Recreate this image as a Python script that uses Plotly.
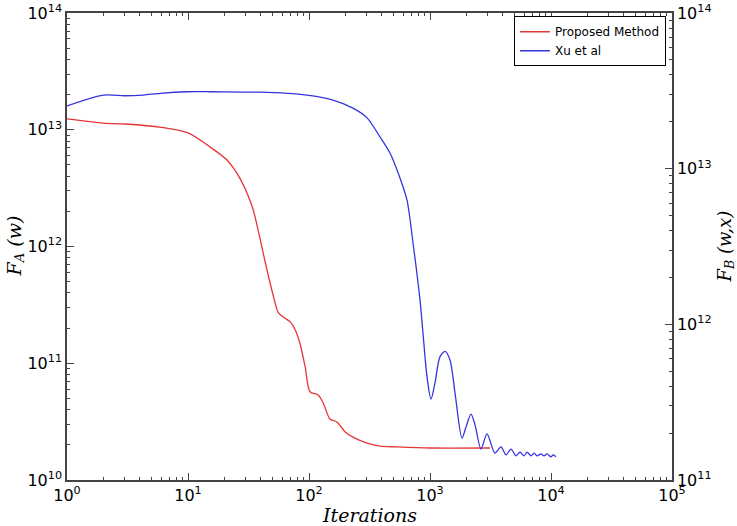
import plotly.graph_objects as go

# Proposed Method (left axis, F_A(w))
prop_iter = [1, 2, 3, 6, 10, 15, 21, 27, 34, 38, 43, 50, 56, 63, 70, 77, 84, 93, 102,
             119, 131, 149, 170, 199, 231, 302, 386, 534, 1000, 3130]
prop_val = [1.24e13, 1.14e13, 1.12e13, 1.05e13, 9.4e12, 7.2e12, 5.5e12, 3.8e12, 2.18e12,
            1.38e12, 7.7e11, 4.0e11, 2.7e11, 2.44e11, 2.26e11, 1.93e11, 1.49e11, 9.3e10,
            5.7e10, 5.35e10, 4.57e10, 3.33e10, 3.14e10, 2.58e10, 2.33e10, 2.07e10, 1.95e10,
            1.92e10, 1.88e10, 1.88e10]

# Xu et al (right axis, F_B(w,x))
xu_iter = [1, 2, 3, 4.25, 5.9, 9.8, 15.2, 26.9, 39.4, 96, 158, 231, 302, 386, 467, 565, 645,
           724, 827, 875, 945, 1019, 1099, 1210, 1331, 1464, 1611, 1838, 1984, 2183, 2355,
           2639, 2958, 3443, 3863, 4249, 4673, 5140, 5545, 5984, 6339, 6839, 7244, 7662,
           8266, 8750, 9266, 10000, 10400, 11000]
xu_val = [2.53e13, 2.97e13, 2.94e13, 2.97e13, 3.05e13, 3.12e13, 3.12e13, 3.10e13, 3.10e13,
          2.97e13, 2.76e13, 2.45e13, 2.12e13, 1.60e13, 1.26e13, 8.7e12, 6.3e12, 3.33e12,
          1.43e12, 8.8e11, 4.6e11, 3.31e11, 4.2e11, 6.2e11, 6.7e11, 5.9e11, 3.6e11, 1.86e11,
          2.19e11, 2.65e11, 2.26e11, 1.58e11, 1.98e11, 1.49e11, 1.63e11, 1.45e11, 1.58e11,
          1.43e11, 1.51e11, 1.43e11, 1.51e11, 1.43e11, 1.49e11, 1.43e11, 1.47e11, 1.43e11,
          1.47e11, 1.41e11, 1.45e11, 1.41e11]

x_tickvals = [1, 10, 100, 1000, 10000, 100000]
x_ticktext = ["10<sup>0</sup>", "10<sup>1</sup>", "10<sup>2</sup>", "10<sup>3</sup>",
              "10<sup>4</sup>", "10<sup>5</sup>"]
yl_tickvals = [1e10, 1e11, 1e12, 1e13, 1e14]
yl_ticktext = ["10<sup>10</sup>", "10<sup>11</sup>", "10<sup>12</sup>", "10<sup>13</sup>",
               "10<sup>14</sup>"]
yr_tickvals = [1e11, 1e12, 1e13, 1e14]
yr_ticktext = ["10<sup>11</sup>", "10<sup>12</sup>", "10<sup>13</sup>", "10<sup>14</sup>"]


def minor_vals(lo, hi):
    vals = []
    for e in range(lo, hi):
        for m in range(2, 10):
            vals.append(m * 10 ** e)
    return vals


fig = go.Figure()
fig.add_trace(go.Scatter(x=prop_iter, y=prop_val, mode="lines", name="Proposed Method",
                         line=dict(color="#e83535", width=1.3, shape="spline", smoothing=0.8),
                         yaxis="y"))
fig.add_trace(go.Scatter(x=xu_iter, y=xu_val, mode="lines", name="Xu et al",
                         line=dict(color="#3535e0", width=1.3, shape="spline", smoothing=0.8),
                         yaxis="y2"))

tickfont = dict(family="DejaVu Sans", size=16, color="black")
axcol = "#444444"
titlefont = dict(family="DejaVu Serif", size=19, color="black")

fig.update_layout(
    width=737, height=526,
    margin=dict(l=67, r=65, t=13, b=46, autoexpand=False),
    paper_bgcolor="white", plot_bgcolor="white",
    showlegend=True,
    legend=dict(x=0.99, y=0.993, xanchor="right", yanchor="top",
                bgcolor="white", bordercolor="black", borderwidth=1,
                font=dict(family="DejaVu Sans", size=12, color="black"),
                tracegroupgap=0),
    xaxis=dict(type="log", range=[0, 5], tickmode="array", tickvals=x_tickvals,
               ticktext=x_ticktext, ticks="inside", ticklen=7, tickwidth=1, tickcolor=axcol,
               showline=True, linecolor=axcol, linewidth=1.5, mirror="ticks",
               showgrid=False, zeroline=False, tickfont=tickfont, automargin=False,
               ticklabeloverflow="allow",
               minor=dict(tickmode="array", tickvals=minor_vals(0, 5), ticks="inside",
                          ticklen=3.5, tickcolor=axcol, showgrid=False)),
    yaxis=dict(type="log", range=[10, 14], tickmode="array", tickvals=yl_tickvals,
               ticktext=yl_ticktext, ticks="inside", ticklen=7, tickwidth=1, tickcolor=axcol,
               showline=True, linecolor=axcol, linewidth=1.5, mirror=False,
               showgrid=False, zeroline=False, tickfont=tickfont, automargin=False,
               ticklabeloverflow="allow",
               minor=dict(tickmode="array", tickvals=minor_vals(10, 14), ticks="inside",
                          ticklen=3.5, tickcolor=axcol, showgrid=False)),
    yaxis2=dict(type="log", range=[11, 14], overlaying="y", side="right",
                tickmode="array", tickvals=yr_tickvals, ticktext=yr_ticktext,
                ticks="inside", ticklen=7, tickwidth=1, tickcolor=axcol,
                showline=True, linecolor=axcol, linewidth=1.5,
                showgrid=False, zeroline=False, tickfont=tickfont, automargin=False,
                ticklabeloverflow="allow",
                minor=dict(tickmode="array", tickvals=minor_vals(11, 14), ticks="inside",
                           ticklen=3.5, tickcolor=axcol, showgrid=False)),
    annotations=[
        dict(text="<i>Iterations</i>", xref="paper", yref="paper", x=0.5, y=0,
             yshift=-35, xanchor="center", yanchor="middle", showarrow=False,
             font=titlefont),
        dict(text="<i>F</i><sub><i>A</i></sub><i> (w)</i>", xref="paper", yref="paper",
             x=0, y=0.5, xshift=-52, xanchor="center", yanchor="middle", textangle=-90,
             showarrow=False, font=titlefont),
        dict(text="<i>F</i><sub><i>B</i></sub><i> (w,x)</i>", xref="paper", yref="paper",
             x=1, y=0.5, xshift=53, xanchor="center", yanchor="middle", textangle=-90,
             showarrow=False, font=dict(family="DejaVu Serif", size=18, color="black")),
    ],
)

fig.write_html("out.html", config={"displayModeBar": False},
               post_script="document.body.style.margin='0';document.body.style.overflow='hidden';")
